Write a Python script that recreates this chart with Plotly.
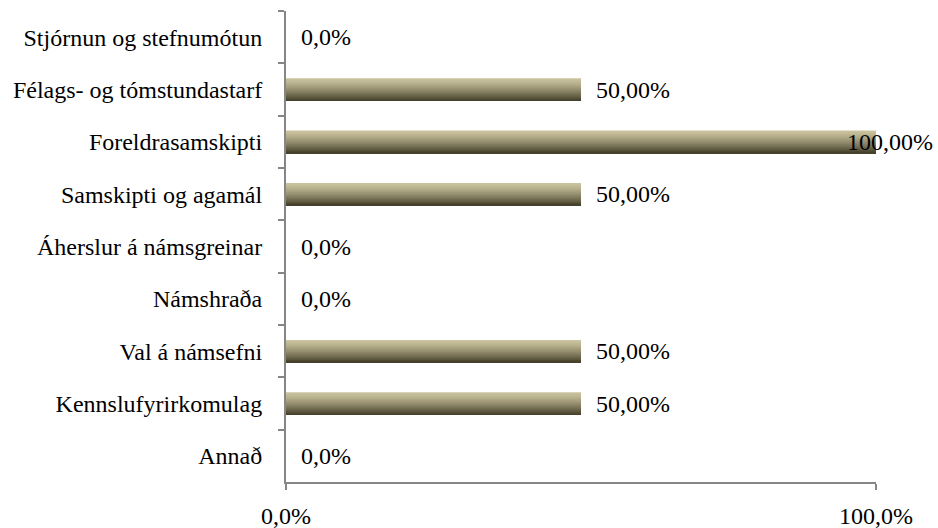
import plotly.graph_objects as go

# Categories listed from top to bottom
categories = [
    "Stjórnun og stefnumótun",
    "Félags- og tómstundastarf",
    "Foreldrasamskipti",
    "Samskipti og agamál",
    "Áherslur á námsgreinar",
    "Námshraða",
    "Val á námsefni",
    "Kennslufyrirkomulag",
    "Annað",
]
values = [0, 50, 100, 50, 0, 0, 50, 50, 0]
value_labels = ["0,0%", "50,00%", "100,00%", "50,00%", "0,0%", "0,0%", "50,00%", "50,00%", "0,0%"]
x_tick_values = [0, 100]
x_tick_labels = ["0,0%", "100,0%"]

FONT = "Liberation Serif, Times New Roman, serif"
FONT_SIZE = 24
AXIS_GREY = "#868686"

# Vertical gradient on each bar: overlaid layers, each running from its
# start to the bottom edge of the bar, drawn light to dark
top_rgb = (203, 195, 158)
bottom_rgb = (70, 65, 44)
n_strips = 30
bar_width = 0.43

fig = go.Figure()
for i in range(n_strips):
    t = i / (n_strips - 1)
    t = t ** 1.3
    r = round(top_rgb[0] + (bottom_rgb[0] - top_rgb[0]) * t)
    g = round(top_rgb[1] + (bottom_rgb[1] - top_rgb[1]) * t)
    b = round(top_rgb[2] + (bottom_rgb[2] - top_rgb[2]) * t)
    strip = bar_width / n_strips
    start = -bar_width / 2 + i * strip
    fig.add_trace(go.Bar(
        x=values,
        y=categories,
        orientation="h",
        width=bar_width / 2 - start,
        offset=start,
        marker=dict(color=f"rgb({r},{g},{b})", line=dict(width=0)),
        hoverinfo="skip",
        showlegend=False,
    ))

# Value labels beside each bar
vmax = max(values)
for cat, v, lab in zip(categories, values, value_labels):
    if v == vmax:
        fig.add_annotation(x=v, y=cat, text=lab, showarrow=False,
                           xanchor="right", xshift=59,
                           font=dict(family=FONT, size=FONT_SIZE, color="#000"))
    else:
        fig.add_annotation(x=v, y=cat, text=lab, showarrow=False,
                           xanchor="left", xshift=13,
                           font=dict(family=FONT, size=FONT_SIZE, color="#000"))

fig.update_layout(
    width=938,
    height=528,
    margin=dict(l=286, r=62, t=11, b=46),
    paper_bgcolor="white",
    plot_bgcolor="white",
    barmode="overlay",
    font=dict(family=FONT, size=FONT_SIZE, color="#000"),
    xaxis=dict(
        range=[0, 100],
        tickvals=x_tick_values,
        ticktext=x_tick_labels,
        ticks="outside",
        ticklen=6,
        tickwidth=2,
        tickcolor=AXIS_GREY,
        showline=True,
        linecolor=AXIS_GREY,
        linewidth=2,
        showgrid=False,
        zeroline=False,
        automargin=False,
        ticklabelstandoff=5,
        tickfont=dict(family=FONT, size=FONT_SIZE),
    ),
    yaxis=dict(
        autorange="reversed",
        tickson="boundaries",
        ticks="outside",
        ticklen=6,
        tickwidth=2,
        tickcolor=AXIS_GREY,
        showline=True,
        linecolor=AXIS_GREY,
        linewidth=2,
        showgrid=False,
        zeroline=False,
        automargin=False,
        ticklabelstandoff=17,
        tickfont=dict(family=FONT, size=FONT_SIZE),
    ),
)

fig.write_html("out.html")
